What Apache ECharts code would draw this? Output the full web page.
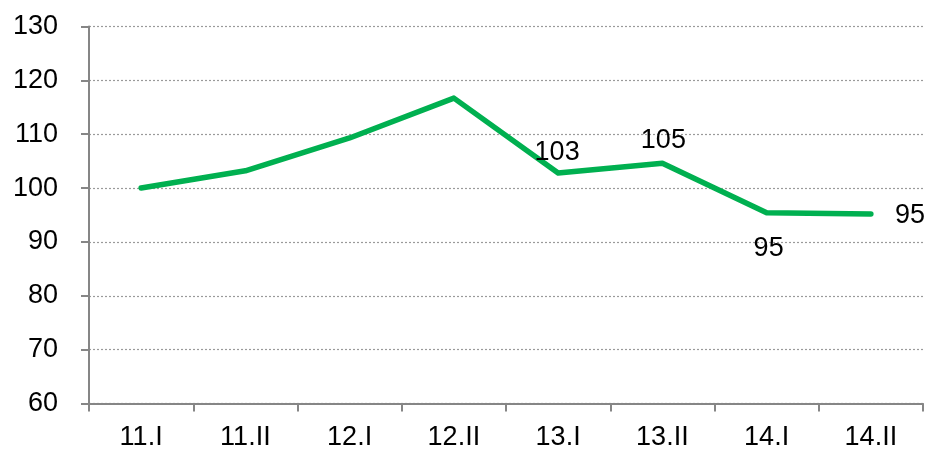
<!DOCTYPE html>
<html>
<head>
<meta charset="utf-8">
<script src="https://cdn.jsdelivr.net/npm/echarts@6/dist/echarts.min.js"></script>
<style>html,body{margin:0;padding:0;background:#fff;}#c{width:930px;height:457px;}</style>
</head>
<body>
<div id="c"></div>
<script>
var categories = ['11.I','11.II','12.I','12.II','13.I','13.II','14.I','14.II'];
var values = [100, 103.2, 109.3, 116.7, 102.8, 104.6, 95.4, 95.2];
var labelTexts = [null, null, null, null, '103', '105', '95', '95'];

var labelStyles = {
  4: {position: 'top', distance: 6, offset: [-1, 0]},
  5: {position: 'top', distance: 8, offset: [1, 0]},
  6: {position: 'bottom', distance: 21, offset: [2, 0]},
  7: {position: 'right', distance: 23, offset: [0, 2]}
};
var FONT = 'Liberation Sans';
var FS = 27;
var seriesData = values.map(function (v, i) {
  var item = {value: v};
  if (labelTexts[i] !== null) {
    var s = labelStyles[i];
    item.label = {
      show: true, position: s.position, distance: s.distance, offset: s.offset,
      formatter: labelTexts[i], color: '#000', fontSize: FS, fontFamily: FONT
    };
  }
  return item;
});

var chart = echarts.init(document.getElementById('c'), null, {renderer: 'canvas'});
chart.setOption({
  animation: false,
  grid: {left: 89, right: 7, top: 26.5, bottom: 53.5, containLabel: false},
  xAxis: {
    type: 'category', data: categories, boundaryGap: true,
    axisLine: {lineStyle: {color: '#868686', width: 2}},
    axisTick: {show: true, length: 8, alignWithLabel: false, lineStyle: {color: '#868686', width: 2}},
    axisLabel: {color: '#000', fontSize: FS, fontFamily: FONT, margin: 21, interval: 0},
    splitLine: {show: false}
  },
  yAxis: {
    type: 'value', min: 60, max: 130, interval: 10,
    axisLine: {show: true, lineStyle: {color: '#868686', width: 2}},
    axisTick: {show: true, length: 8, lineStyle: {color: '#868686', width: 2}},
    axisLabel: {color: '#000', fontSize: FS, fontFamily: FONT, margin: 31},
    splitLine: {show: true, lineStyle: {color: '#9a9a9a', width: 1.2, type: [2, 2]}}
  },
  series: [{
    type: 'line', data: seriesData, symbol: 'circle', symbolSize: 2, showSymbol: true,
    lineStyle: {color: '#00B050', width: 5.5, cap: 'round', join: 'round'},
    itemStyle: {color: '#00B050'},
    label: {show: false}
  }]
});
</script>
</body>
</html>
